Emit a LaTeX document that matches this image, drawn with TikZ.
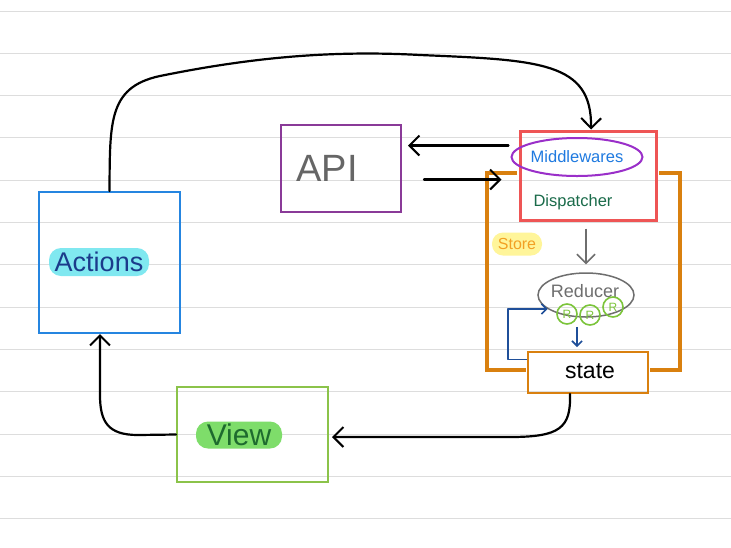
\documentclass[tikz,border=0pt]{standalone}
\usepackage{fontspec}
\setmainfont{Liberation Sans}
\usetikzlibrary{arrows.meta,shapes.geometric}
\definecolor{rulegray}{HTML}{DDDDDD}
\definecolor{actblue}{HTML}{2585E0}
\definecolor{actnavy}{HTML}{1B3B8B}
\definecolor{cyanhl}{HTML}{80E8F0}
\definecolor{apipurple}{HTML}{8A3A98}
\definecolor{apigray}{HTML}{666666}
\definecolor{viewgreen}{HTML}{8BC34A}
\definecolor{viewtext}{HTML}{1E6B2E}
\definecolor{greenhl}{HTML}{7EDD6A}
\definecolor{redbox}{HTML}{EE5555}
\definecolor{mwblue}{HTML}{1F7AE0}
\definecolor{mwpurple}{HTML}{9A2FC9}
\definecolor{dispgreen}{HTML}{1A6B4A}
\definecolor{storeorange}{HTML}{D9800F}
\definecolor{storetext}{HTML}{F2A024}
\definecolor{yellowhl}{HTML}{FFF59A}
\definecolor{redgray}{HTML}{6E6E6E}
\definecolor{rgreen}{HTML}{7BC43A}
\definecolor{arrblue}{HTML}{1F4F99}
\tikzset{
  rule/.style={draw=rulegray, line width=1pt},
  box/.style={draw, line width=2pt, inner sep=0pt, rectangle},
  hl/.style={rounded corners=12pt, inner sep=0pt},
  conn/.style={draw=black, line width=2.2pt, line cap=round, line join=round,
    -{Straight Barb[length=10pt,width=20pt,line width=2pt]}},
  grayarr/.style={draw=redgray, line width=1.5pt,
    -{Straight Barb[length=9pt,width=18pt,line width=1.5pt]}},
  bluearr/.style={draw=arrblue, line width=1.8pt, line join=round,
    -{Straight Barb[length=5pt,width=10pt,line width=1.6pt]}},
  frame/.style={draw=storeorange, line width=3.5pt, line join=miter},
  rcirc/.style={circle, draw=rgreen, line width=1.6pt, minimum size=20pt, inner sep=0pt,
    text=rgreen, font=\fontsize{12}{12}\selectfont}
}
\begin{document}
\begin{tikzpicture}[x=1pt,y=-1pt]
\useasboundingbox (0,0) rectangle (731,547);
\fill[white] (0,0) rectangle (731,547);
\foreach \k in {0,...,12} \draw[rule] (0,{11+42.3*\k}) -- (731,{11+42.3*\k});

% boxes
\node[box, draw=actblue, minimum width=141pt, minimum height=141pt] (actions) at (109.5,262.5) {};
\node[hl, fill=cyanhl, minimum width=100pt, minimum height=28pt, text=actnavy,
  font=\fontsize{27}{27}\selectfont] (actlbl) at (99,262) {Actions};

\node[box, draw=apipurple, minimum width=120pt, minimum height=87pt] (api) at (341,168.5) {};
\node[text=apigray, font=\fontsize{38}{38}\selectfont] (apilbl) at (327,168) {API};

\node[box, draw=viewgreen, minimum width=151pt, minimum height=95pt] (view) at (252.5,434.5) {};
\node[hl, fill=greenhl, minimum width=86pt, minimum height=27pt, text=viewtext,
  font=\fontsize{30}{30}\selectfont] (viewlbl) at (239,435) {View};

% store frame
\node[box, draw=redbox, line width=3pt, minimum width=136pt, minimum height=89pt] (disp) at (588,175.5) {};
\node[box, draw=storeorange, minimum width=120pt, minimum height=41pt] (state) at (588,372.5) {};
\coordinate (storeL) at (487,370);
\coordinate (storeR) at (680,370);
\draw[frame] ([xshift=-1.5pt,yshift=2.5pt]disp.west) -| (storeL) -- ([xshift=-1pt,yshift=2.5pt]state.west);
\draw[frame] ([xshift=1.5pt,yshift=2.5pt]disp.east) -| (storeR) -- ([xshift=1pt,yshift=2.5pt]state.east);

\node[ellipse, draw=mwpurple, line width=2pt, minimum width=116pt, minimum height=38pt, inner sep=0pt,
  text=mwblue, font=\fontsize{16.5}{16.5}\selectfont] (mw) at (577,157) {Middlewares};
\node[text=dispgreen, font=\fontsize{16.5}{16.5}\selectfont] (displbl) at (573,202) {Dispatcher};

\node[hl, rounded corners=11pt, fill=yellowhl, minimum width=50pt, minimum height=23pt, text=storetext,
  font=\fontsize{16}{16}\selectfont] (storelbl) at (517,244) {Store};

\node[ellipse, draw=redgray, line width=1.5pt, minimum width=96pt, minimum height=44pt, inner sep=0pt] (reducer) at (586,295) {};
\node[text=redgray, font=\fontsize{18}{18}\selectfont] (reducerlbl) at (585,291) {Reducer};
\node[rcirc] (r1) at (567,314) {R};
\node[rcirc] (r2) at (590,315) {R};
\node[rcirc] (r3) at (613,307) {R};

\node[font=\fontsize{23}{23}\selectfont] (statelbl) at (590,371) {state};

% connectors
\draw[conn] (actions.north) .. controls (110,120) and (108,85) .. (165,75)
  .. controls (250,58) and (330,50) .. (420,55)
  .. controls (540,60) and (592,62) .. ([xshift=3pt]disp.north);
\draw[conn] ([xshift=-10pt,yshift=30pt]disp.west) -- ([xshift=6pt,yshift=23pt]api.east);
\draw[conn] ([xshift=22pt,yshift=-11pt]api.east) -- ([xshift=-17pt,yshift=-4pt]disp.west);
\draw[grayarr] ([xshift=-2pt,yshift=-7pt]disp.south) -- ([yshift=8pt]reducer.north);
\draw[bluearr] ([xshift=-9pt,yshift=-9pt]reducer.south) -- ([xshift=-11pt,yshift=4pt]state.north);
\draw[bluearr] ([yshift=13pt]state.west) -- ++(-19,0) |- (reducer.200);
\draw[conn] ([xshift=-18pt]state.south) .. controls (571,428) and (560,437) .. (510,437)
  -- ([xshift=3pt,yshift=-2.5pt]view.east);
\draw[conn] (view.west) -- (138,435) .. controls (108,435) and (100,422) .. (100,395)
  -- ([xshift=-9.5pt]actions.south);
\end{tikzpicture}
\end{document}
